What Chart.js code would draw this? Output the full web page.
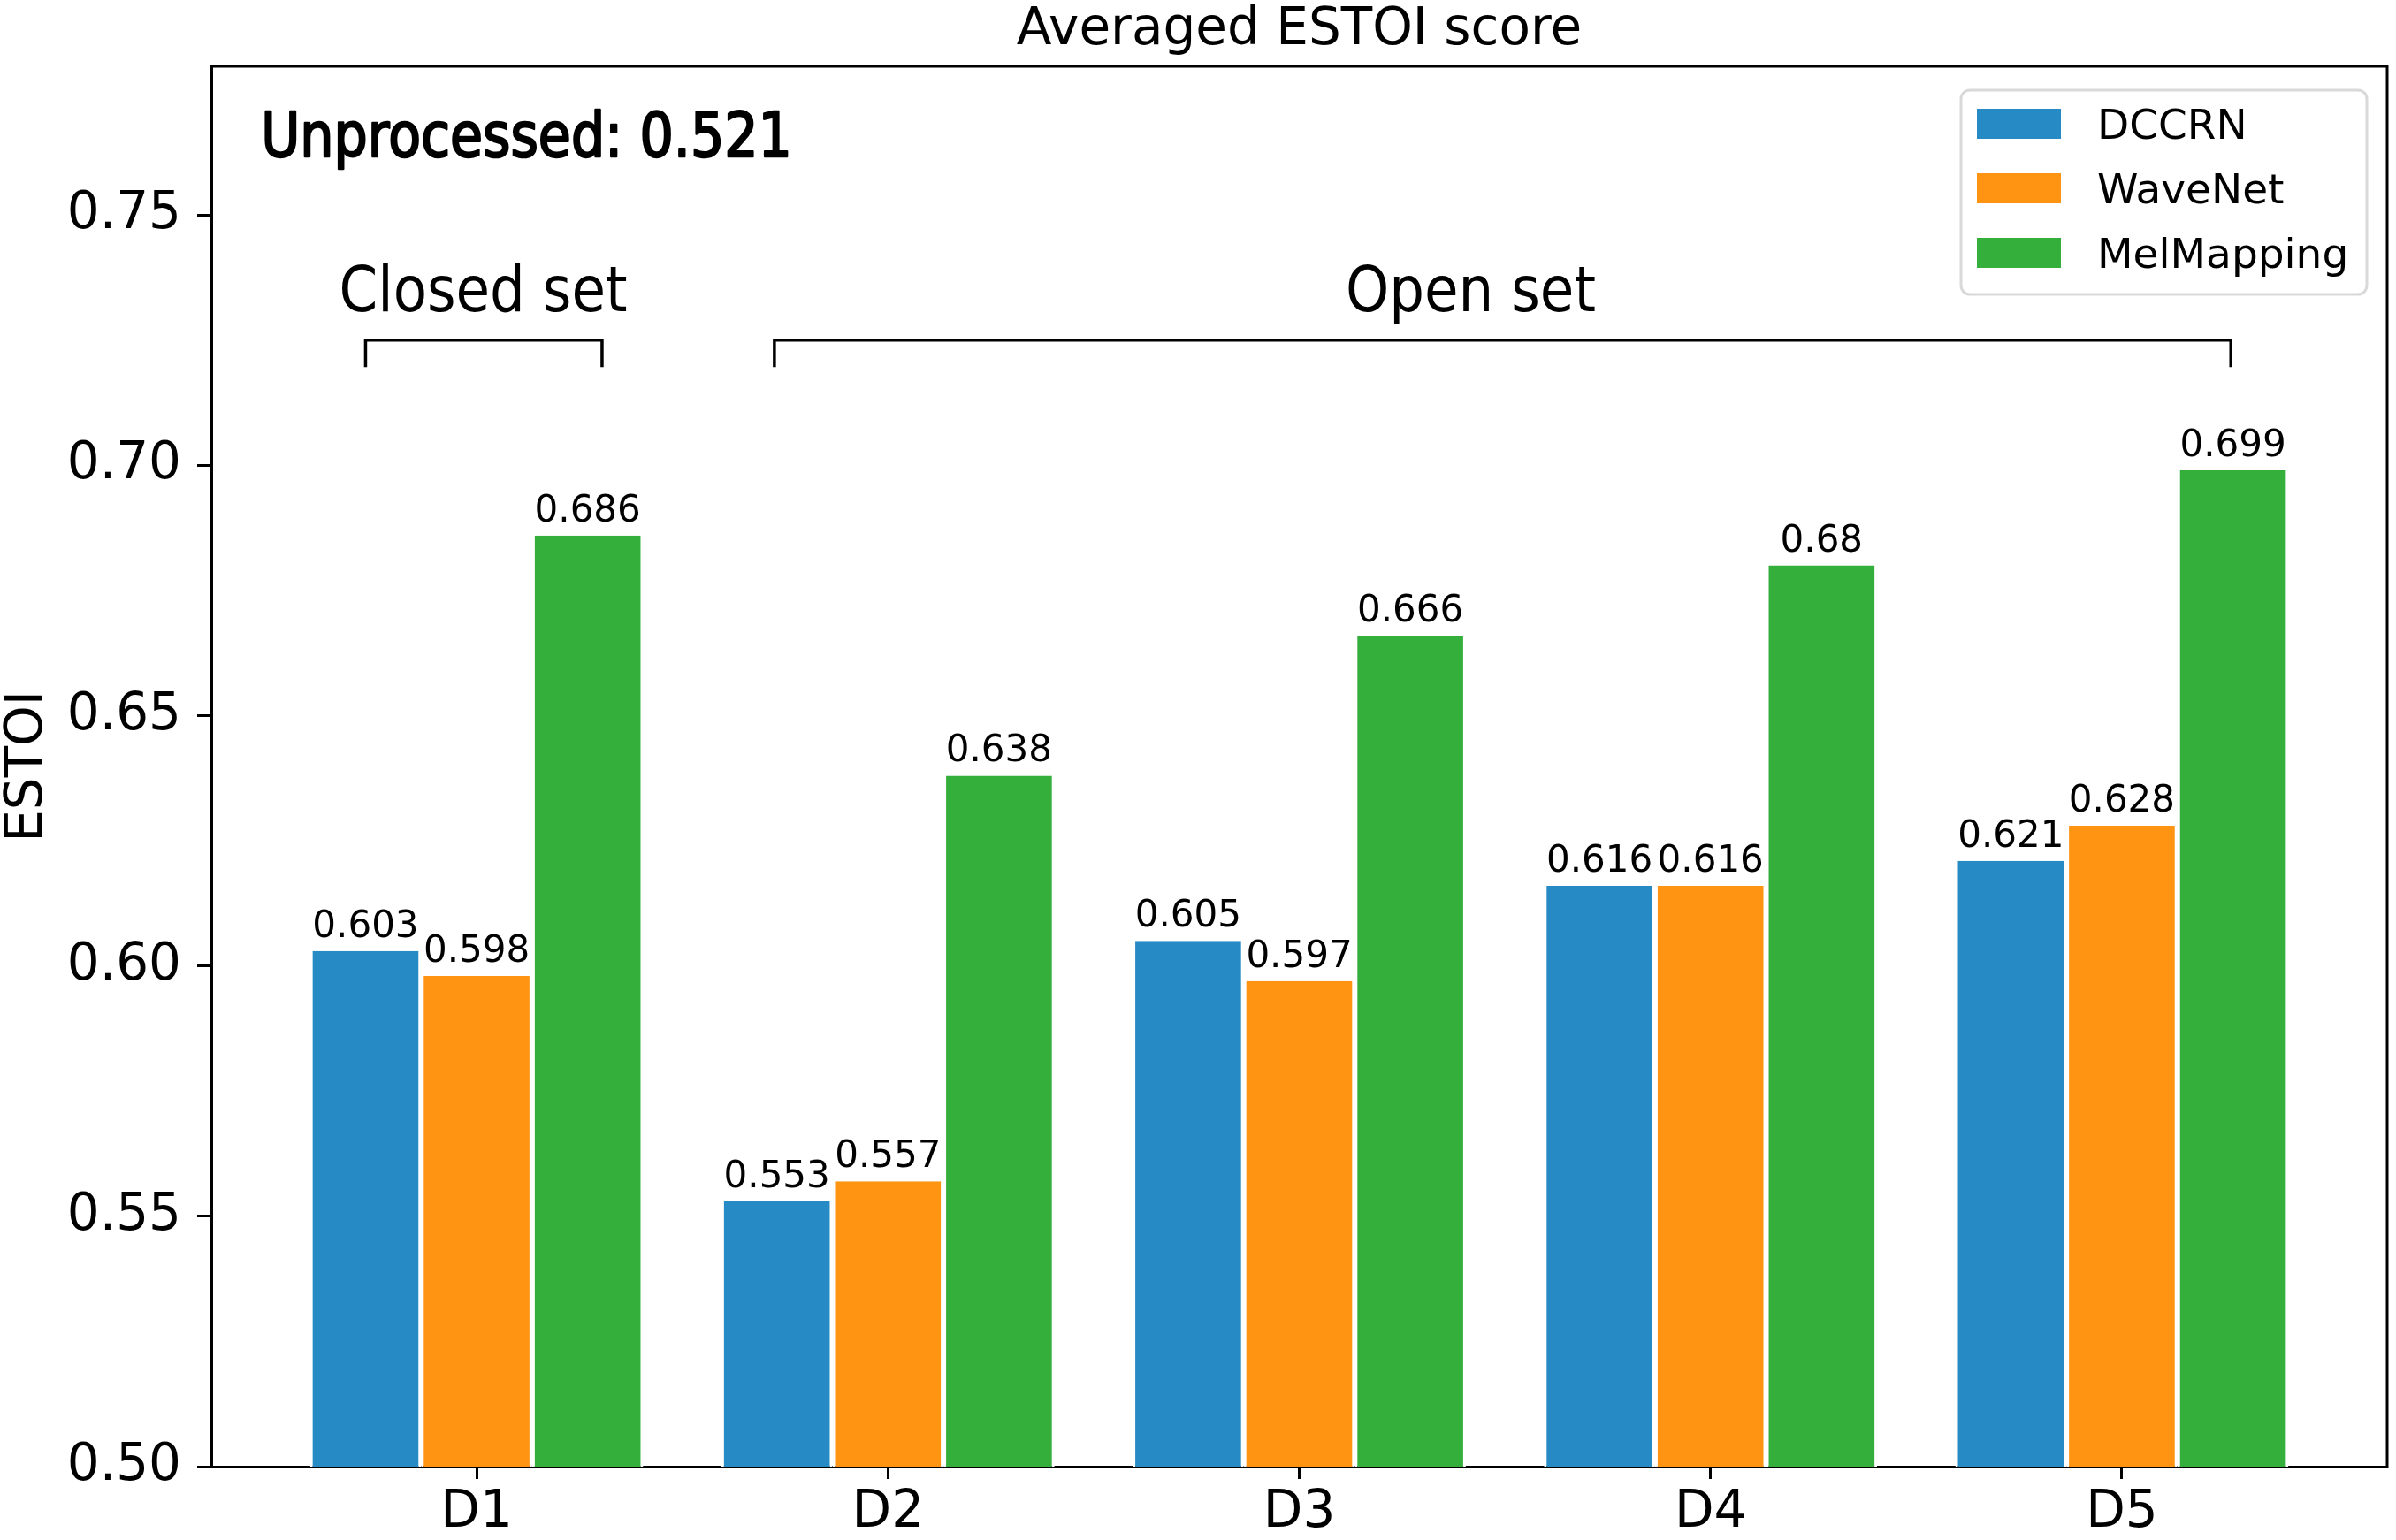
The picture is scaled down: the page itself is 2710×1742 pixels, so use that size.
<!DOCTYPE html>
<html><head><meta charset="utf-8">
<script src="https://cdn.jsdelivr.net/npm/chart.js@4.4.1/dist/chart.umd.min.js"></script>
<style>html,body{margin:0;padding:0;background:#fff;}#wrap{width:2710px;height:1742px;}</style>
</head><body><div id="wrap"><canvas id="c" width="2710" height="1742"></canvas></div>
<script>
// ---- data ----
const categories = ['D1', 'D2', 'D3', 'D4', 'D5'];
const seriesNames = ['DCCRN', 'WaveNet', 'MelMapping'];
const dccrn = [0.603, 0.553, 0.605, 0.616, 0.621];
const wavenet = [0.598, 0.557, 0.597, 0.616, 0.628];
const melmapping = [0.686, 0.638, 0.666, 0.68, 0.699];
const yTickValues = [0.50, 0.55, 0.60, 0.65, 0.70, 0.75];
const chartTitle = 'Averaged ESTOI score';
const yTitle = 'ESTOI';
const unprocessedText = 'Unprocessed: 0.521';
const groupLabels = ['Closed set', 'Open set'];

// ---- styling / placement (not data) ----
const colors = ['#268ac4', '#fe9412', '#34af3c'];
const FONT = "'DejaVu Sans', sans-serif";
const groupBrackets = [
  { from: -0.27, to: 0.305, textX: 0.016 },
  { from: 0.724, to: 4.265, textX: 2.417 }
];
const bracketY = 0.725, bracketTickY = 0.7196, groupTextY = 0.7308;
const unprocessedPos = { x: -0.524, y: 0.7617 };

const seriesValues = [dccrn, wavenet, melmapping];

function squeezedText(ctx, text, x, y, sx, strokeW) {
  ctx.save();
  ctx.translate(x, y);
  ctx.scale(sx, 1);
  ctx.fillText(text, 0, 0);
  if (strokeW) { ctx.lineWidth = strokeW; ctx.strokeStyle = ctx.fillStyle; ctx.lineJoin = 'round'; ctx.strokeText(text, 0, 0); }
  ctx.restore();
}

const framePlugin = {
  id: 'frame',
  afterDraw(chart) {
    const { ctx, chartArea: a } = chart;
    ctx.save();
    ctx.strokeStyle = '#000'; ctx.lineWidth = 3; ctx.lineCap = 'square';
    ctx.beginPath(); ctx.moveTo(a.left, a.top); ctx.lineTo(a.right, a.top); ctx.lineTo(a.right, a.bottom); ctx.stroke();
    ctx.fillStyle = '#000';
    ctx.font = `58px ${FONT}`;
    ctx.textAlign = 'center'; ctx.textBaseline = 'alphabetic';
    ctx.fillText(chartTitle, (a.left + a.right) / 2, 50);
    ctx.restore();
  }
};

const valueLabelPlugin = {
  id: 'valueLabels',
  afterDatasetsDraw(chart) {
    const { ctx } = chart;
    ctx.save();
    ctx.fillStyle = '#000';
    ctx.font = `42px ${FONT}`;
    ctx.textAlign = 'center'; ctx.textBaseline = 'alphabetic';
    chart.data.datasets.forEach((ds, di) => {
      const meta = chart.getDatasetMeta(di);
      meta.data.forEach((bar, i) => {
        ctx.fillText(String(ds.data[i].y), bar.x, bar.y - 16);
      });
    });
    ctx.restore();
  }
};

const annotationPlugin = {
  id: 'annotations',
  afterDatasetsDraw(chart) {
    const { ctx, scales: { x, y } } = chart;
    ctx.save();
    ctx.strokeStyle = '#000'; ctx.lineWidth = 3.5; ctx.lineJoin = 'miter';
    ctx.fillStyle = '#000';
    groupBrackets.forEach((b, i) => {
      const x1 = x.getPixelForValue(b.from), x2 = x.getPixelForValue(b.to);
      const yb = y.getPixelForValue(bracketY), yt = y.getPixelForValue(bracketTickY);
      ctx.beginPath(); ctx.moveTo(x1, yt); ctx.lineTo(x1, yb); ctx.lineTo(x2, yb); ctx.lineTo(x2, yt); ctx.stroke();
      ctx.font = `72px ${FONT}`;
      ctx.textAlign = 'center'; ctx.textBaseline = 'alphabetic';
      squeezedText(ctx, groupLabels[i], x.getPixelForValue(b.textX), y.getPixelForValue(groupTextY), 0.87, 0);
    });
    ctx.font = `70px ${FONT}`;
    ctx.textAlign = 'left'; ctx.textBaseline = 'alphabetic';
    squeezedText(ctx, unprocessedText, x.getPixelForValue(unprocessedPos.x), y.getPixelForValue(unprocessedPos.y), 0.86, 2.5);
    ctx.restore();
  }
};

const legendPlugin = {
  id: 'customLegend',
  afterDraw(chart) {
    const { ctx, chartArea: a } = chart;
    const boxL = a.right - 482, boxT = a.top + 27, boxW = 459, boxH = 231;
    ctx.save();
    ctx.fillStyle = 'rgba(255,255,255,0.85)';
    ctx.strokeStyle = '#d9d9d9'; ctx.lineWidth = 3;
    ctx.beginPath();
    ctx.roundRect(boxL, boxT, boxW, boxH, 10);
    ctx.fill(); ctx.stroke();
    ctx.font = `47px ${FONT}`;
    ctx.textAlign = 'left'; ctx.textBaseline = 'alphabetic';
    chart.data.datasets.forEach((ds, i) => {
      const cy = boxT + 38 + i * 73;
      ctx.fillStyle = ds.backgroundColor;
      ctx.fillRect(boxL + 18, cy - 17, 95, 34);
      ctx.fillStyle = '#000';
      ctx.fillText(ds.label, boxL + 154, cy + 17);
    });
    ctx.restore();
  }
};

new Chart(document.getElementById('c'), {
  type: 'bar',
  data: {
    datasets: seriesNames.map((name, si) => ({
      label: name,
      data: categories.map((c, i) => ({ x: i, y: seriesValues[si][i] })),
      backgroundColor: colors[si],
      borderColor: '#ffffff',
      borderWidth: { left: 3, right: 3, top: 0, bottom: 0 },
      borderSkipped: false,
      categoryPercentage: 0.81,
      barPercentage: 1.0
    }))
  },
  options: {
    responsive: false,
    animation: false,
    devicePixelRatio: 1,
    layout: { padding: { top: 75, right: 10, left: 0, bottom: 0 } },
    plugins: { legend: { display: false }, tooltip: { enabled: false }, title: { display: false } },
    scales: {
      x: {
        type: 'linear',
        min: -0.645, max: 4.645,
        offset: false,
        grid: { display: true, drawOnChartArea: false, drawTicks: true, tickLength: 14, tickWidth: 3, tickColor: '#000', offset: false },
        border: { display: true, color: '#000', width: 3 },
        afterBuildTicks: s => { s.ticks = categories.map((c, i) => ({ value: i })); },
        afterFit: s => { s.height = 83; },
        ticks: {
          color: '#000', padding: 4, maxRotation: 0, autoSkip: false,
          font: { family: FONT, size: 58 },
          callback: v => categories[v]
        }
      },
      y: {
        type: 'linear',
        min: 0.5, max: 0.7797,
        grid: { display: true, drawOnChartArea: false, drawTicks: true, tickLength: 16, tickWidth: 3, tickColor: '#000' },
        border: { display: true, color: '#000', width: 3 },
        afterBuildTicks: s => { s.ticks = yTickValues.map(v => ({ value: v })); },
        afterFit: s => { s.width = 239; },
        ticks: {
          color: '#000', padding: 18, autoSkip: false,
          font: { family: FONT, size: 58 },
          callback: v => v.toFixed(2)
        },
        title: {
          display: true, text: yTitle, color: '#000',
          font: { family: FONT, size: 58, lineHeight: 1.0 },
          padding: { top: 3, bottom: 0 }
        }
      }
    }
  },
  plugins: [framePlugin, valueLabelPlugin, annotationPlugin, legendPlugin]
});
</script>
</body></html>
